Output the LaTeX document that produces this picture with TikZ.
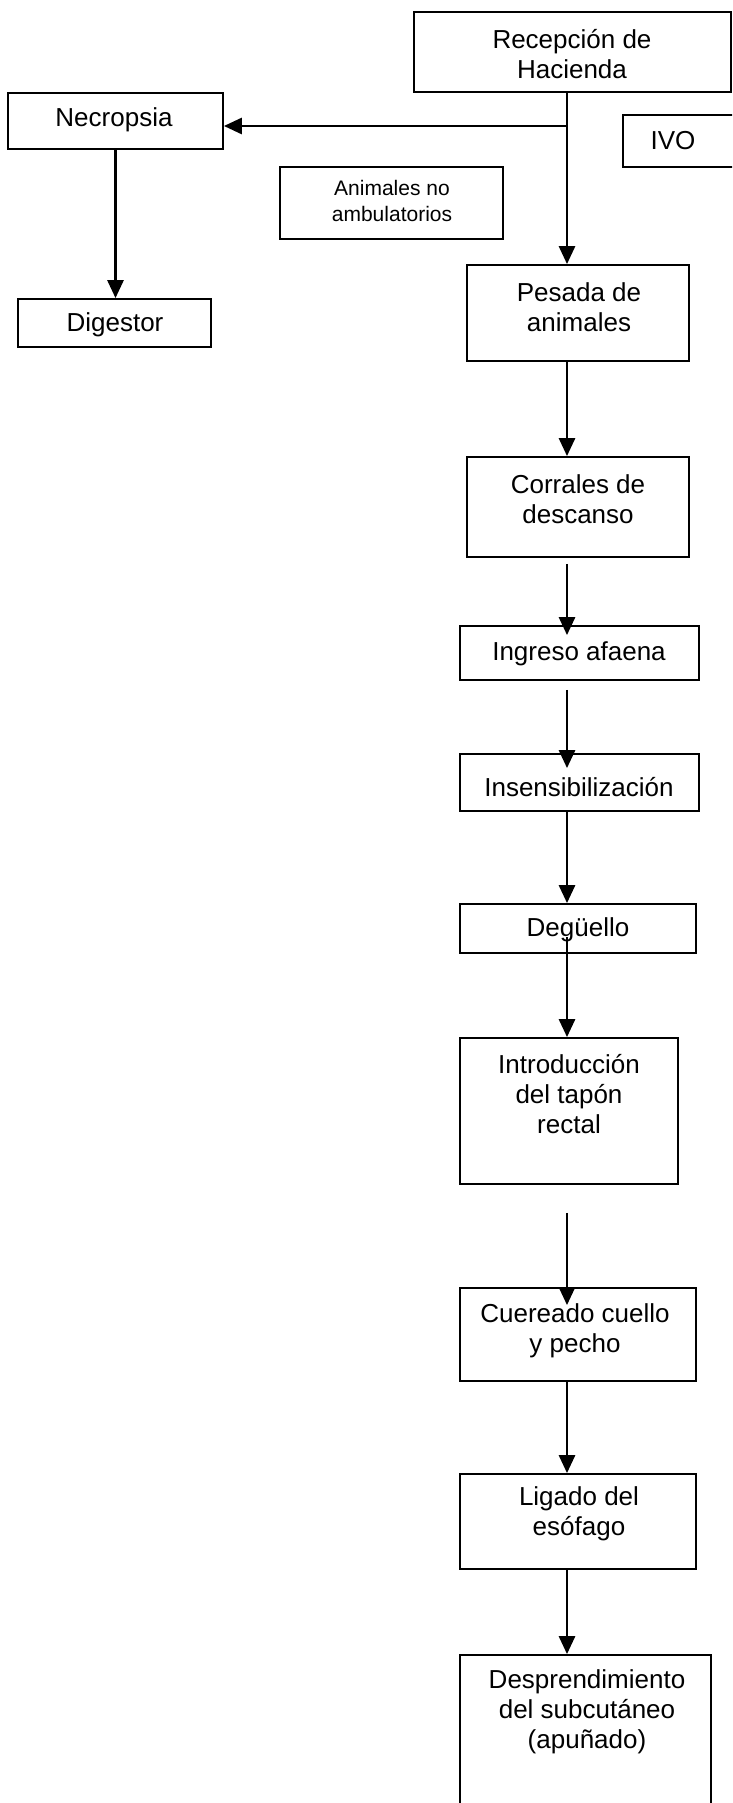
\documentclass[tikz,border=0pt]{standalone}
\usepackage{fontspec}
\setmainfont{Liberation Sans}
\usetikzlibrary{arrows.meta,calc}
\begin{document}
\begin{tikzpicture}[x=1pt,y=-1pt,
  box/.style={draw, line width=1.8pt, inner sep=0pt, fill=none},
  txt/.style={inner sep=0pt, align=center, font=\fontsize{26}{30}\selectfont},
  small/.style={inner sep=0pt, align=center, font=\fontsize{21}{26}\selectfont},
  arr/.style={line width=2.8pt, -{Triangle[width=16pt,length=18pt]}}]
\useasboundingbox (0,0) rectangle (732,1803);
\clip (0,0) rectangle (732,1803);
% boxes
\node[box, minimum width=317pt, minimum height=80pt]  (rec) at (572.5,52) {};
\node[box, minimum width=215pt, minimum height=56pt]  (nec) at (115.5,121) {};
\node[box, minimum width=112pt, minimum height=52pt]  (ivo) at (679,141) {};
\node[box, minimum width=223pt, minimum height=72pt]  (ani) at (391.5,203) {};
\node[box, minimum width=193pt, minimum height=48pt]  (dig) at (114.5,323) {};
\node[box, minimum width=222pt, minimum height=96pt]  (pes) at (578,313) {};
\node[box, minimum width=222pt, minimum height=100pt] (cor) at (578,507) {};
\node[box, minimum width=239pt, minimum height=54pt]  (ing) at (579.5,653) {};
\node[box, minimum width=239pt, minimum height=57pt]  (ins) at (579.5,782.5) {};
\node[box, minimum width=236pt, minimum height=49pt]  (deg) at (578,928.5) {};
\node[box, minimum width=218pt, minimum height=146pt] (int) at (569,1111) {};
\node[box, minimum width=236pt, minimum height=93pt]  (cue) at (578,1334.5) {};
\node[box, minimum width=236pt, minimum height=95pt]  (lig) at (578,1521.5) {};
\node[box, minimum width=251pt, minimum height=160pt] (des) at (585.5,1735) {};
% texts
\node[txt] (trec) at (572,54) {Recepción de\\Hacienda};
\node[txt] (tnec) at (114,120) {Necropsia};
\node[txt] (tivo) at (673,141) {IVO};
\node[small] (tani) at (392,201) {Animales no\\ambulatorios};
\node[txt] (tdig) at (115,325) {Digestor};
\node[txt] (tpes) at (579,307) {Pesada de\\animales};
\node[txt] (tcor) at (578,499) {Corrales de\\descanso};
\node[txt] (ting) at (579,654) {Ingreso afaena};
\node[txt] (tins) at (579,787) {Insensibilización};
\node[txt] (tdeg) at (578,930) {Degüello};
\node[txt] (tint) at (569,1094) {Introducción\\del tapón\\rectal};
\node[txt] (tcue) at (575,1331) {Cuereado cuello\\y pecho};
\node[txt] (tlig) at (579,1514) {Ligado del\\esófago};
\node[txt] (tdes) at (587,1712) {Desprendimiento\\del subcutáneo\\(apuñado)};
% connectors
\coordinate (col) at (567,0);
\coordinate (br) at (567,126);
\draw[arr] (rec.south -| col) -- (pes.north -| col);
\draw[arr] (br) -- (nec.east |- br);
\draw[arr] (nec.south) -- (nec.south |- dig.north);
\draw[arr] (pes.south -| col) -- (cor.north -| col);
\draw[arr] ($(cor.south -| col)+(0,6)$) -- ($(ing.north -| col)+(0,10)$);
\draw[arr] ($(ing.south -| col)+(0,9)$) -- ($(ins.north -| col)+(0,15)$);
\draw[arr] (ins.south -| col) -- (deg.north -| col);
\draw[arr] ($(deg.south -| col)+(0,-17)$) -- (int.north -| col);
\draw[arr] ($(int.south -| col)+(0,28)$) -- ($(cue.north -| col)+(0,18)$);
\draw[arr] (cue.south -| col) -- (lig.north -| col);
\draw[arr] (lig.south -| col) -- (des.north -| col);
\end{tikzpicture}
\end{document}
